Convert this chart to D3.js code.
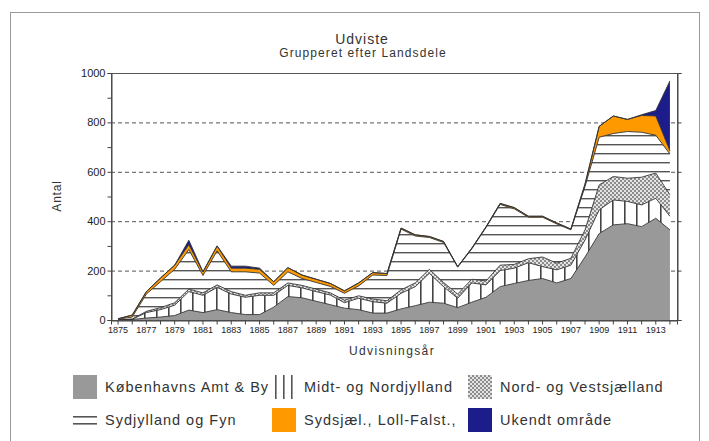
<!DOCTYPE html>
<html>
<head>
<meta charset="utf-8">
<script src="https://cdn.jsdelivr.net/npm/d3@7"></script>
<style>
  body { margin: 0; background: #fff; }
  svg { font-family: "Liberation Sans", Arial, sans-serif; }
  .tick text { fill: #222; }
</style>
</head>
<body>
<svg id="chart" width="709" height="441"></svg>
<script>
const years = d3.range(1875, 1915)

const kbh = [0,2,8,12,18,40,30,42,30,22, 22,52,95,90,76,62,48,42,28,28,
  45,58,72,68,50,72,92,135,148,160, 168,150,168,255,350,385,390,378,412,365]
const midt = [0,1,22,30,42,75,70,90,75,70, 78,48,45,40,39,39,22,46,46,40,
  63,77,117,67,38,78,50,65,62,72, 48,53,54,69,96,101,90,88,81,55]
const nordVest = [0,1,5,8,10,10,10,10,10,8, 10,10,10,10,10,9,10,10,11,10,
  14,15,16,17,17,15,16,22,15,16, 39,27,28,41,101,95,94,112,102,87]
const sydjylland = [3,8,70,105,135,160,70,138,80,95, 80,30,45,28,27,26,28,40,97,102,
  246,190,129,162,109,123,216,246,225,168, 161,159,115,175,193,174,189,182,153,165]
const sydsjael = [2,8,10,15,17,20,15,20,15,15, 15,15,17,14,13,12,10,12,10,8,
  4,5,4,4,2,3,3,4,5,4, 4,4,3,10,44,71,49,68,78,13]
const ukendt = [0,0,0,0,0,18,0,0,8,8, 5,0,0,0,0,0,0,0,0,0,
  0,0,0,0,0,0,0,0,0,0, 0,0,0,0,0,0,0,3,22,283]

const keys = ['kbh', 'midt', 'nordVest', 'sydjylland', 'sydsjael', 'ukendt']
const labels = ['Københavns Amt & By', 'Midt- og Nordjylland', 'Nord- og Vestsjælland',
  'Sydjylland og Fyn', 'Sydsjæl., Loll-Falst.,', 'Ukendt område']
const yTicks = [0, 200, 400, 600, 800, 1000]

const rows = years.map((yr, i) => ({
  year: yr, kbh: kbh[i], midt: midt[i], nordVest: nordVest[i],
  sydjylland: sydjylland[i], sydsjael: sydsjael[i], ukendt: ukendt[i]
}))

const svg = d3.select('#chart')
const pL = 111, pR = 677, pT = 73, pB = 320

// patterns
const defs = svg.append('defs')
const pv = defs.append('pattern').attr('id', 'pVert').attr('patternUnits', 'userSpaceOnUse')
  .attr('width', 12).attr('height', 12)
pv.append('rect').attr('width', 12).attr('height', 12).attr('fill', '#fff')
pv.append('rect').attr('x', 0).attr('width', 1.6).attr('height', 12).attr('fill', '#444')

const ph = defs.append('pattern').attr('id', 'pHoriz').attr('patternUnits', 'userSpaceOnUse')
  .attr('width', 10).attr('height', 9)
ph.append('rect').attr('width', 10).attr('height', 9).attr('fill', '#fff')
ph.append('rect').attr('y', 0).attr('width', 10).attr('height', 1.4).attr('fill', '#555')

const pc = defs.append('pattern').attr('id', 'pCheck').attr('patternUnits', 'userSpaceOnUse')
  .attr('width', 4).attr('height', 4)
pc.append('rect').attr('width', 4).attr('height', 4).attr('fill', '#e4e4e4')
pc.append('rect').attr('width', 2).attr('height', 2).attr('fill', '#8c8c8c')
pc.append('rect').attr('x', 2).attr('y', 2).attr('width', 2).attr('height', 2).attr('fill', '#8c8c8c')

const fills = {
  kbh: '#999999', midt: 'url(#pVert)', nordVest: 'url(#pCheck)',
  sydjylland: 'url(#pHoriz)', sydsjael: '#ff9900', ukendt: '#1c1c8a'
}

// outer frame
svg.append('rect').attr('x', 10.5).attr('y', 12.5).attr('width', 689).attr('height', 500)
  .attr('fill', 'none').attr('stroke', '#999')

// titles
svg.append('text').attr('x', 362).attr('y', 44).attr('text-anchor', 'middle')
  .attr('font-size', 14).attr('letter-spacing', 1).attr('fill', '#333').text('Udviste')
svg.append('text').attr('x', 363).attr('y', 57).attr('text-anchor', 'middle')
  .attr('font-size', 12).attr('letter-spacing', 1.1).attr('fill', '#333')
  .text('Grupperet efter Landsdele')

const x = d3.scaleBand().domain(years).range([pL, pR])
const xc = d => x(d) + x.bandwidth() / 2
const y = d3.scaleLinear().domain([0, 1000]).range([pB, pT])

// grid
svg.append('g').selectAll('line')
  .data(yTicks.filter(d => d > 0 && d < 1000))
  .enter().append('line')
  .attr('x1', pL).attr('x2', pR)
  .attr('y1', d => y(d) + 0.5).attr('y2', d => y(d) + 0.5)
  .attr('stroke', '#555').attr('stroke-dasharray', '4,3')

const series = d3.stack().keys(keys)(rows)

const area = d3.area()
  .x(d => xc(d.data.year))
  .y0(d => y(d[0]))
  .y1(d => y(d[1]))

const line = d3.line()
  .x(d => xc(d.data.year))
  .y(d => y(d[1]))

svg.append('g').selectAll('path')
  .data(series)
  .enter().append('path')
  .attr('d', area)
  .attr('fill', d => fills[d.key])

svg.append('g').selectAll('path')
  .data(series)
  .enter().append('path')
  .attr('d', line)
  .attr('fill', 'none')
  .attr('stroke', '#333')
  .attr('stroke-width', 0.9)

// plot frame
svg.append('rect').attr('x', pL + 0.5).attr('y', pT + 0.5)
  .attr('width', pR - pL).attr('height', pB - pT)
  .attr('fill', 'none').attr('stroke', '#555')

// axes
const yAxis = svg.append('g').attr('transform', `translate(${pL + 0.5},0)`)
  .call(d3.axisLeft(y).tickValues(d3.range(0, 1001, 100)).tickSize(4)
    .tickFormat(d => d % 200 === 0 ? d : ''))
yAxis.select('.domain').attr('stroke', '#444')
yAxis.selectAll('.tick line').attr('stroke', '#444')
yAxis.selectAll('.tick text').attr('font-size', 11).attr('font-family', '"Liberation Sans", Arial')
  .attr('x', -6)

const yAxisR = svg.append('g').attr('transform', `translate(${pR + 0.5},0)`)
  .call(d3.axisRight(y).tickValues(yTicks).tickSize(4).tickFormat(''))
yAxisR.select('.domain').attr('stroke', '#444')
yAxisR.selectAll('.tick line').attr('stroke', '#444')

const xAxis = svg.append('g').attr('transform', `translate(0,${pB + 0.5})`)
  .call(d3.axisBottom(x).tickSize(4).tickFormat(d => (d - 1875) % 2 === 0 ? d : ''))
xAxis.select('.domain').attr('stroke', '#444')
xAxis.selectAll('.tick line').attr('stroke', '#444')
xAxis.selectAll('.tick text').attr('font-size', 9).attr('y', 6)
  .attr('font-family', '"Liberation Sans Narrow", "Liberation Sans", Arial')

svg.append('text').attr('transform', 'translate(61,196) rotate(-90)')
  .attr('text-anchor', 'middle').attr('font-size', 12).attr('letter-spacing', 0.8)
  .attr('fill', '#333').text('Antal')
svg.append('text').attr('x', 392).attr('y', 355).attr('text-anchor', 'middle')
  .attr('font-size', 12).attr('letter-spacing', 1.4).attr('fill', '#333').text('Udvisningsår')

// legend
const legX = [73, 272, 468]
const leg = svg.append('g')
keys.forEach((k, i) => {
  const col = i % 3
  const row = i < 3 ? 0 : 1
  const gx = legX[col], gy = row === 0 ? 375 : 408
  const g = leg.append('g').attr('transform', `translate(${gx},${gy})`)
  if (k === 'midt') {
    [3, 11, 19].forEach(v => g.append('rect').attr('x', v).attr('y', 0)
      .attr('width', 1.6).attr('height', 24).attr('fill', '#555'))
  } else if (k === 'sydjylland') {
    [8, 15].forEach(v => g.append('rect').attr('x', 0).attr('y', v)
      .attr('width', 24).attr('height', 1.6).attr('fill', '#555'))
  } else {
    g.append('rect').attr('width', 24).attr('height', 24).attr('fill', fills[k])
  }
  g.append('text').attr('x', 32).attr('y', 17).attr('font-size', 14.5)
    .attr('letter-spacing', 1).attr('fill', '#333').text(labels[i])
})
</script>
</body>
</html>
